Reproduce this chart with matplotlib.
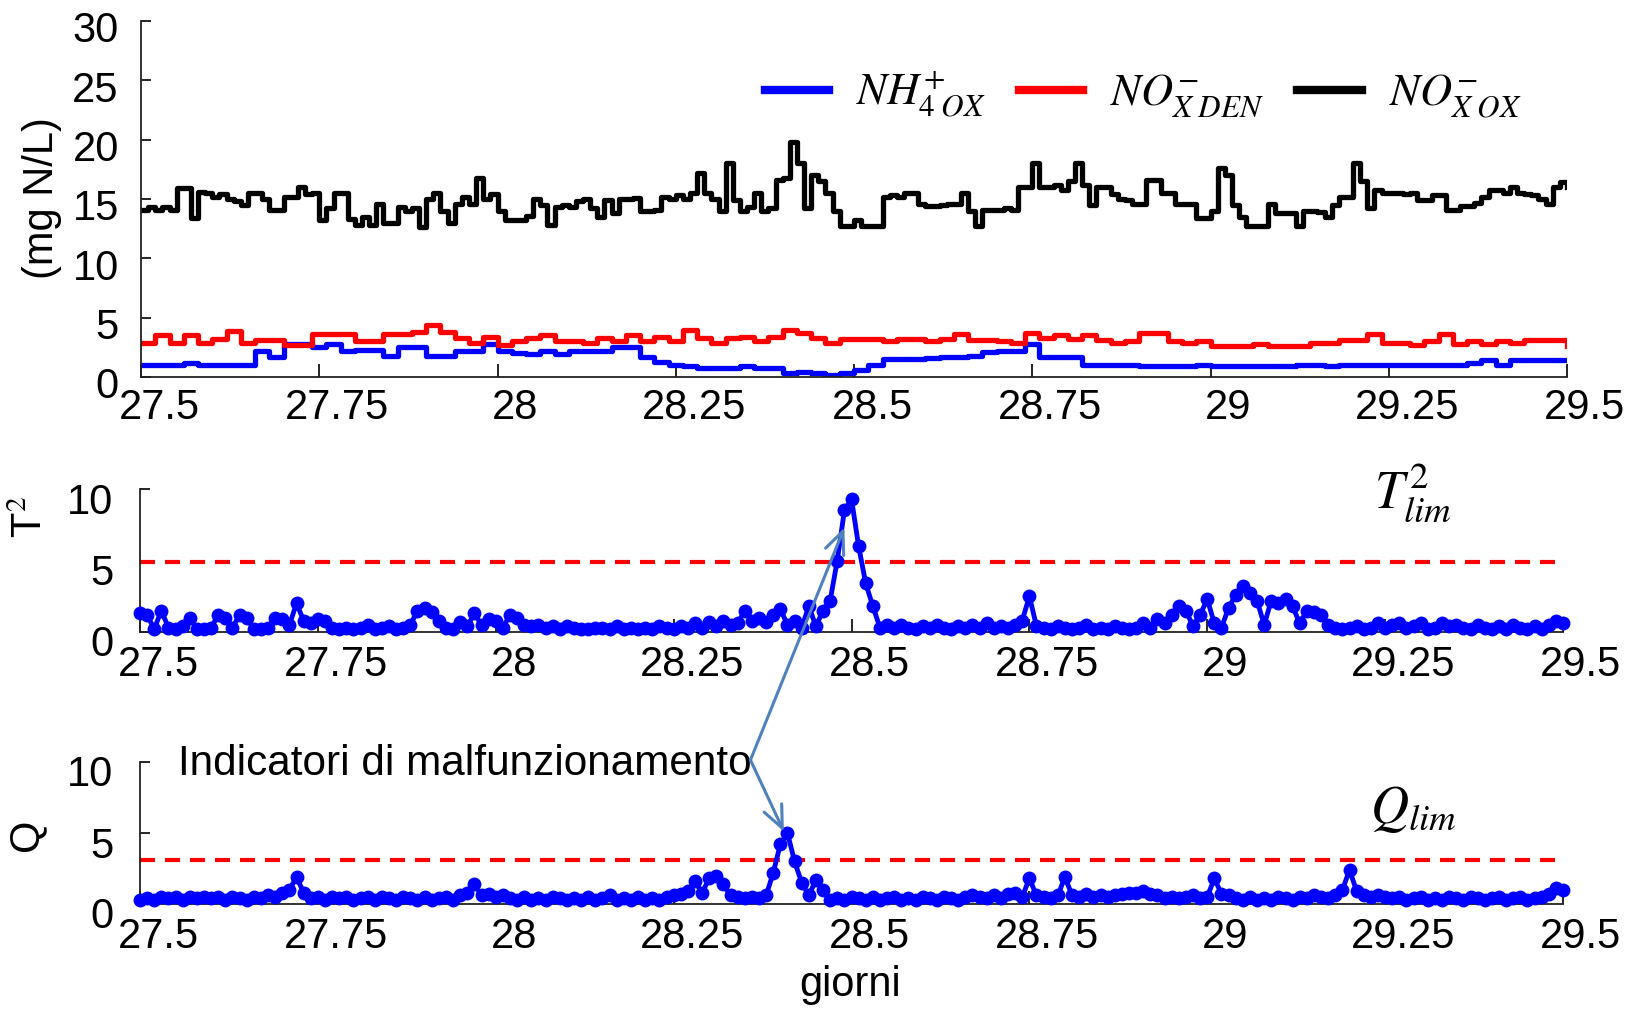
import numpy as np
import matplotlib
matplotlib.use('Agg')
import matplotlib.pyplot as plt
from matplotlib import font_manager as fm
from matplotlib.transforms import ScaledTranslation

# ---------------- data ----------------
# time grids (days)
t_fine = np.round(27.5 + 0.01 * np.arange(201), 2)     # 0.01-day samples
t_coarse = np.round(27.5 + 0.02 * np.arange(101), 2)   # 0.02-day samples

# NO_X OX (black), 0.01-day steps
nox_ox = [
    14.1, 14.3, 14.1, 14.3, 14.1, 15.9, 15.9, 13.4, 15.6, 15.5,
    15.2, 15.4, 15.0, 14.8, 14.5, 15.5, 15.5, 15.0, 14.1, 14.1,
    15.2, 15.2, 16.0, 15.4, 15.5, 13.2, 14.2, 15.5, 15.5, 13.3,
    12.8, 13.5, 12.8, 14.6, 13.0, 13.0, 14.3, 14.0, 14.2, 12.6,
    15.0, 15.5, 14.0, 13.0, 14.6, 15.2, 14.6, 16.8, 15.0, 15.4,
    14.0, 13.2, 13.2, 13.2, 13.6, 15.0, 14.5, 12.8, 14.3, 14.5,
    14.3, 14.8, 15.0, 14.2, 13.5,
    14.9, 13.8, 15.0, 15.0, 15.1, 14.0, 14.0, 14.1, 15.2, 15.0,
    15.3, 15.0, 15.5, 17.2, 15.5, 15.0, 14.0, 18.0, 14.9, 14.0,
    14.3, 15.5, 14.0, 14.2, 16.6, 16.8, 19.8, 18.0, 14.2, 17.0,
    16.5, 15.5, 14.0, 12.7, 12.7, 13.2, 12.7, 12.7, 12.7, 15.2,
    15.3, 15.2, 15.5, 15.5, 14.6, 14.4, 14.4, 14.5, 14.6, 14.6,
    15.5, 14.0, 12.7, 14.1, 14.1, 14.1, 14.2, 14.1, 16.0, 16.0,
    18.0, 16.0, 16.0, 16.2, 15.8, 16.5, 18.0, 16.2, 14.5, 16.0,
    16.0, 15.4, 15.0, 14.9, 14.6, 14.6, 16.6, 16.6, 15.5, 15.5,
    14.6, 14.6, 14.6, 13.4,
    13.4, 14.0, 17.6, 17.0, 14.5, 13.5, 12.7, 12.7, 12.7, 14.6,
    13.8, 13.8, 13.8, 12.7, 14.0, 14.0, 13.9, 13.5, 14.5, 15.2,
    15.2, 18.0, 16.5, 14.2, 15.8, 15.5, 15.5, 15.5, 15.4, 15.5,
    14.9, 14.9, 15.3, 15.3, 14.1, 14.1, 14.4, 14.4, 14.7, 15.2,
    15.8, 15.8, 15.5, 16.0, 15.5, 15.4, 15.3, 15.0, 14.6, 16.0,
    16.4, 16.0,
]

# NO_X DEN (red), 0.02-day steps
nox_den = [
    2.9, 3.5, 2.9, 3.5, 2.9, 3.2, 3.9, 2.9, 3.1, 3.1,
    2.7, 2.7, 3.6, 3.6, 3.6, 3.0, 3.0, 3.6, 3.6, 3.8,
    4.4, 3.8, 3.3, 2.9, 3.4, 2.7, 3.0, 3.3, 3.5, 3.0,
    3.0, 2.9, 3.3,
    3.0, 3.5, 3.0, 3.4, 3.0, 4.0, 3.3, 2.9, 3.3, 3.4,
    3.0, 3.4, 4.0, 3.7, 3.3, 2.9, 3.2, 3.2, 3.2, 3.0,
    3.2, 3.2, 3.0, 3.2, 3.6, 3.1, 3.1, 3.0, 2.9, 3.7,
    3.3, 3.5, 3.2, 3.5, 3.1, 2.9, 3.0, 3.7, 3.7, 3.0,
    2.9, 3.0,
    2.6, 2.6, 2.6, 2.8, 2.6, 2.6, 2.6, 2.9, 2.9, 3.1,
    3.1, 3.6, 2.9, 2.9, 2.7, 3.0, 3.6, 2.8, 3.0, 2.8,
    3.0, 2.9, 3.1, 3.1, 3.1, 2.6,
]

# NH4+ OX (blue), 0.02-day steps
nh4_ox = [
    1.0, 1.0, 1.0, 1.2, 1.0, 1.0, 1.0, 1.0, 2.2, 1.7,
    2.8, 2.8, 2.5, 2.8, 2.2, 2.3, 2.3, 1.8, 2.5, 2.5,
    1.8, 1.8, 2.2, 2.2, 2.8, 2.2, 2.0, 1.9, 2.2, 1.9,
    2.2, 2.2, 2.2,
    2.5, 2.5, 1.7, 1.3, 1.0, 0.9, 0.8, 0.8, 0.8, 0.9,
    0.8, 0.8, 0.3, 0.4, 0.3, 0.2, 0.3, 0.6, 1.0, 1.5,
    1.5, 1.5, 1.6, 1.7, 1.7, 1.8, 2.1, 2.2, 2.2, 2.8,
    1.7, 1.7, 1.7, 1.0, 1.0,
    1.0, 1.0, 0.9, 0.9, 0.9, 0.9, 1.0, 0.9, 0.9, 0.9,
    0.9, 0.9, 0.9, 1.0, 1.0, 0.9, 1.0, 1.0, 1.0, 1.0,
    1.0, 1.0, 1.0, 1.0, 1.0, 1.2, 1.4, 1.0, 1.4, 1.4,
    1.4, 1.4, 1.4,
]

# T^2 statistic, 0.01-day samples
t2_stat = [
    1.3, 1.2, 0.2, 1.5, 0.3, 0.2, 0.4, 1.0, 0.2, 0.2,
    0.3, 1.2, 1.0, 0.3, 1.2, 1.0, 0.2, 0.2, 0.3, 1.0,
    0.9, 0.5, 2.0, 0.8, 0.6, 0.9, 0.8, 0.3, 0.2, 0.3,
    0.2, 0.3, 0.5, 0.2, 0.3, 0.4, 0.2, 0.3, 0.5, 1.5,
    1.7, 1.4, 0.8, 0.3, 0.2, 0.7, 0.4, 1.3, 0.5, 0.9,
    0.8, 0.3, 1.2, 1.0, 0.5, 0.4, 0.5, 0.3, 0.4, 0.2,
    0.4, 0.3, 0.2, 0.2, 0.3, 0.3, 0.2, 0.4, 0.2, 0.3,
    0.2, 0.3, 0.2, 0.4, 0.3, 0.2, 0.4, 0.3, 0.6, 0.3,
    0.7, 0.4, 0.8, 0.5, 0.6, 1.5, 0.8, 1.0, 0.7, 1.2,
    1.6, 0.5, 0.8, 0.3, 1.8, 0.4, 1.5, 2.2, 5.0, 8.5,
    9.3, 6.0, 3.4, 1.8, 0.3, 0.5, 0.3, 0.5, 0.3, 0.2,
    0.4, 0.3, 0.5, 0.3, 0.2, 0.4, 0.3, 0.5, 0.3, 0.6,
    0.3, 0.4, 0.3, 0.5, 0.8, 2.5, 0.4, 0.3, 0.2, 0.4,
    0.3, 0.2, 0.3, 0.5, 0.2, 0.3, 0.2, 0.4, 0.3, 0.2,
    0.3, 0.6, 0.3, 0.9, 0.6, 1.2, 1.8, 1.5, 0.4, 1.2,
    2.3, 0.6, 0.3, 1.7, 2.6, 3.2, 2.7, 2.2, 0.5, 2.2,
    2.0, 2.3, 1.8, 0.6, 1.5, 1.4, 1.2, 0.5, 0.3, 0.2,
    0.3, 0.4, 0.2, 0.3, 0.6, 0.3, 0.5, 0.6, 0.3, 0.4,
    0.6, 0.2, 0.3, 0.6, 0.4, 0.5, 0.3, 0.2, 0.5, 0.3,
    0.2, 0.4, 0.2, 0.5, 0.3, 0.2, 0.4, 0.2, 0.5, 0.8,
    0.6,
]

# Q statistic, 0.01-day samples
q_stat = [
    0.3, 0.4, 0.3, 0.5, 0.4, 0.5, 0.3, 0.5, 0.4, 0.5,
    0.4, 0.5, 0.3, 0.5, 0.4, 0.3, 0.5, 0.4, 0.6, 0.5,
    0.8, 1.0, 1.9, 0.8, 0.4, 0.5, 0.3, 0.5, 0.4, 0.5,
    0.3, 0.4, 0.5, 0.3, 0.5, 0.4, 0.3, 0.5, 0.4, 0.3,
    0.5, 0.3, 0.4, 0.5, 0.3, 0.6, 0.8, 1.4, 0.6, 0.7,
    0.5, 0.6, 0.4, 0.3, 0.5, 0.3, 0.4, 0.3, 0.5, 0.4,
    0.3, 0.4, 0.3, 0.5, 0.3, 0.4, 0.6, 0.3, 0.4, 0.3,
    0.5, 0.3, 0.4, 0.3, 0.5, 0.6, 0.7, 0.9, 1.6, 0.8,
    1.8, 2.0, 1.4, 0.6, 0.5, 0.4, 0.5, 0.4, 0.6, 2.2,
    4.2, 5.0, 3.0, 1.5, 0.6, 1.7, 1.0, 0.3, 0.4, 0.3,
    0.5, 0.4, 0.3, 0.5, 0.3, 0.4, 0.5, 0.3, 0.4, 0.3,
    0.5, 0.4, 0.3, 0.5, 0.4, 0.3, 0.5, 0.6, 0.5, 0.4,
    0.6, 0.4, 0.7, 0.8, 0.5, 1.8, 0.6, 0.5, 0.4, 0.6,
    1.9, 0.6, 0.5, 0.7, 0.5, 0.6, 0.5, 0.6, 0.7, 0.8,
    0.8, 0.9, 0.7, 0.6, 0.4, 0.5, 0.4, 0.5, 0.6, 0.4,
    0.5, 1.8, 0.7, 0.6, 0.4, 0.3, 0.5, 0.3, 0.4, 0.3,
    0.5, 0.4, 0.3, 0.5, 0.4, 0.6, 0.5, 0.4, 0.6, 1.0,
    2.4, 0.9, 0.6, 0.5, 0.6, 0.5, 0.4, 0.5, 0.3, 0.4,
    0.5, 0.3, 0.4, 0.3, 0.5, 0.4, 0.3, 0.5, 0.4, 0.3,
    0.4, 0.5, 0.3, 0.4, 0.5, 0.3, 0.4, 0.5, 0.7, 1.1,
    1.0,
]

# control limits
T2_lim = 4.9
Q_lim = 3.1

x_ticks = [27.5, 27.75, 28.0, 28.25, 28.5, 28.75, 29.0, 29.25, 29.5]
x_tick_labels = ['27.5', '27.75', '28', '28.25', '28.5', '28.75', '29', '29.25', '29.5']
y_ticks_top = [0, 5, 10, 15, 20, 25, 30]
y_ticks_low = [0, 5, 10]

legend_labels = [r'$NH^{+}_{\mathit{4}\;OX}$', r'$NO^{-}_{X\;DEN}$', r'$NO^{-}_{X\;OX}$']

# ---------------- style ----------------
names = {f.name for f in fm.fontManager.ttflist}
if 'Liberation Sans Narrow' in names:
    FAM = ['Liberation Sans Narrow', 'DejaVu Sans']
    FS = 33
else:
    FAM = ['Liberation Sans', 'DejaVu Sans']
    FS = 30
plt.rcParams['font.family'] = FAM
plt.rcParams['mathtext.fontset'] = 'stix'

W, H = 1642, 1010
fig = plt.figure(figsize=(W / 100, H / 100), dpi=100)


def rect(l, r, top, bot):
    return [l / W, 1 - bot / H, (r - l) / W, (bot - top) / H]


ax1 = fig.add_axes(rect(141, 1567, 21, 377))
ax2 = fig.add_axes(rect(140, 1563, 489, 632))
ax3 = fig.add_axes(rect(140, 1563, 762, 904))

BLUE = '#0000FF'
RED = '#FF0000'


def style(ax, yticks, ylim, ypad, ydy, xpad):
    for s in ['top', 'right']:
        ax.spines[s].set_visible(False)
    for s in ['left', 'bottom']:
        ax.spines[s].set_linewidth(1.3)
        ax.spines[s].set_color('#222222')
    ax.set_xlim(27.5, 29.5)
    ax.set_ylim(*ylim)
    ax.set_xticks(x_ticks)
    ax.set_xticklabels(x_tick_labels)
    ax.set_yticks(yticks)
    ax.set_yticklabels([f'{v:g}' for v in yticks])
    ax.tick_params(axis='x', direction='in', length=9.5, width=1.2, pad=xpad,
                   labelsize=FS, colors='black')
    ax.tick_params(axis='y', direction='in', length=7, width=1.2, pad=ypad,
                   labelsize=FS, colors='black')
    offx = ScaledTranslation(0.18, 0, fig.dpi_scale_trans)
    for lab in ax.get_xticklabels():
        lab.set_transform(lab.get_transform() + offx)
    offy = ScaledTranslation(0, -ydy / 100, fig.dpi_scale_trans)
    for lab in ax.get_yticklabels():
        lab.set_transform(lab.get_transform() + offy)
    ax.patch.set_visible(False)


# ---- top panel ----
h_b, = ax1.plot(t_coarse, nh4_ox, color=BLUE, lw=3.8, drawstyle='steps-post')
h_r, = ax1.plot(t_coarse, nox_den, color=RED, lw=3.8, drawstyle='steps-post')
h_k, = ax1.plot(t_fine, nox_ox, color='black', lw=3.8, drawstyle='steps-post')
style(ax1, y_ticks_top, (0, 30), 16, 6, 8)
leg = ax1.legend([h_b, h_r, h_k], legend_labels, loc='center left',
                 bbox_to_anchor=(765 / W, 1 - 95 / H), bbox_transform=fig.transFigure,
                 ncol=3, frameon=False, fontsize=32, handlelength=1.45,
                 handletextpad=0.6, columnspacing=0.75, borderpad=0, borderaxespad=0)
for ln in leg.get_lines():
    ln.set_linewidth(6)

# ---- T^2 panel ----
ax2.plot(t_fine, t2_stat, color=BLUE, lw=3.5, marker='o', ms=10, mew=0,
         clip_on=False, zorder=3)
ax2.hlines(T2_lim, 27.5, 29.5, colors=RED, linestyles=(0, (3.6, 2.4)), lw=3, zorder=2)
style(ax2, y_ticks_low, (0, 10), 19, 9, 9)
ax2.text(29.289, 8.67, r'$T^{\mathit{2}}_{lim}$', ha='center', va='baseline', fontsize=38)

# ---- Q panel ----
ax3.plot(t_fine, q_stat, color=BLUE, lw=3.5, marker='o', ms=10, mew=0,
         clip_on=False, zorder=3)
ax3.hlines(Q_lim, 27.5, 29.5, colors=RED, linestyles=(0, (3.6, 2.4)), lw=3, zorder=2)
style(ax3, y_ticks_low, (0, 10), 19, 9, 9)
ax3.text(29.289, 5.7, r'$Q_{lim}$', ha='center', va='baseline', fontsize=38)

# annotation
ax3.text(27.553, 9.08, 'Indicatori di malfunzionamento', ha='left', va='baseline',
         fontsize=FS + 0.4)
arrow_kw = dict(arrowstyle='->,head_length=0.8,head_width=0.35', color='#4F81BD',
                lw=2.2, shrinkA=0, shrinkB=0, mutation_scale=20)
text_end = (28.358, 10.14)
ax3.annotate('', xy=(28.49, 7.3), xycoords=ax2.transData, xytext=text_end,
             textcoords=ax3.transData, arrowprops=arrow_kw, annotation_clip=False)
ax3.annotate('', xy=(28.405, 5.1), xycoords=ax3.transData, xytext=text_end,
             textcoords=ax3.transData, arrowprops=arrow_kw, annotation_clip=False)

# axis titles
fig.text(42 / W, 1 - 198 / H, '(mg N/L)', rotation=90, ha='center', va='center', fontsize=FS)
fig.text(31 / W, 1 - 517 / H, r'T$^{2}$', rotation=90, ha='center', va='center', fontsize=FS)
fig.text(26 / W, 1 - 835 / H, 'Q', rotation=90, ha='center', va='center', fontsize=FS)
fig.text(850 / W, 1 - 985 / H, 'giorni', ha='center', va='center', fontsize=FS)

fig.savefig('out.png', dpi=100)
